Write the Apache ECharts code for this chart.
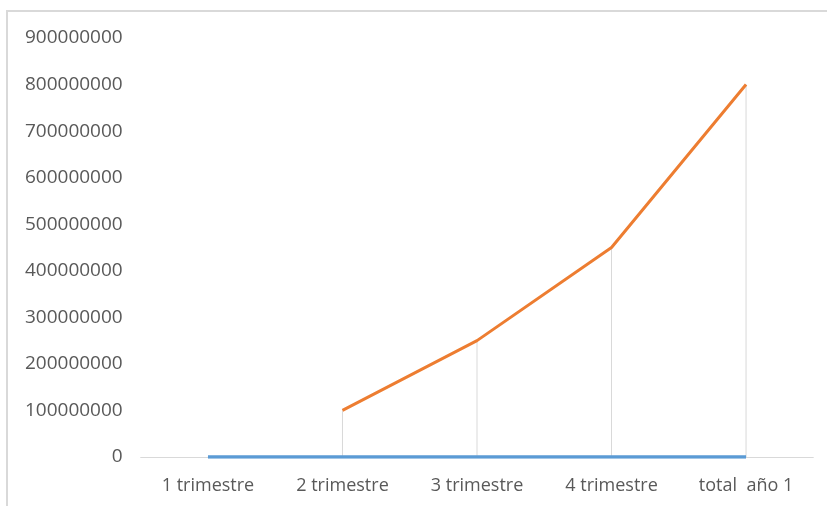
<!DOCTYPE html>
<html>
<head>
<meta charset="utf-8">
<script src="https://cdn.jsdelivr.net/npm/echarts@6/dist/echarts.min.js"></script>
<style>html,body{margin:0;padding:0;background:#fff}#c{width:827px;height:506px}</style>
</head>
<body>
<div id="c"></div>
<script>
const categories = ["1 trimestre", "2 trimestre", "3 trimestre", "4 trimestre", "total  año 1"];
const seriesBlue = [0, 0, 0, 0, 0];
const seriesOrange = [null, 100000000, 250000000, 450000000, 800000000];
const yMin = 0, yMax = 900000000, yInterval = 100000000;

const chart = echarts.init(document.getElementById('c'), null, {renderer: 'canvas'});
const font = '"Open Sans", "Noto Sans", sans-serif';
chart.setOption({
  animation: false,
  backgroundColor: '#fff',
  graphic: [{
    type: 'rect', silent: true, z: -10,
    shape: {x: 7, y: 11, width: 900, height: 600},
    style: {fill: 'none', stroke: '#d9d9d9', lineWidth: 2}
  }],
  grid: {left: 140.7, right: 13.7, top: 38, bottom: 49, containLabel: false},
  xAxis: {
    type: 'category', data: categories, boundaryGap: true,
    axisLine: {show: true, lineStyle: {color: '#d9d9d9', width: 1}},
    axisTick: {show: false},
    axisLabel: {color: '#595959', fontSize: 18, fontFamily: font, margin: 20, interval: 0}
  },
  yAxis: {
    type: 'value', min: yMin, max: yMax, interval: yInterval,
    axisLine: {show: false}, axisTick: {show: false},
    splitLine: {show: false},
    axisLabel: {color: '#595959', fontSize: 19, fontFamily: font, margin: 18,
      formatter: v => String(v)}
  },
  series: [
    {type: 'bar', data: seriesOrange, barWidth: 1, itemStyle: {color: '#d9d9d9'}, z: 1, silent: true},
    {type: 'line', data: seriesBlue, symbol: 'none', lineStyle: {color: '#5B9BD5', width: 3.5}, z: 3},
    {type: 'line', data: seriesOrange, symbol: 'none', lineStyle: {color: '#ED7D31', width: 3}, z: 4}
  ]
});
</script>
</body>
</html>
